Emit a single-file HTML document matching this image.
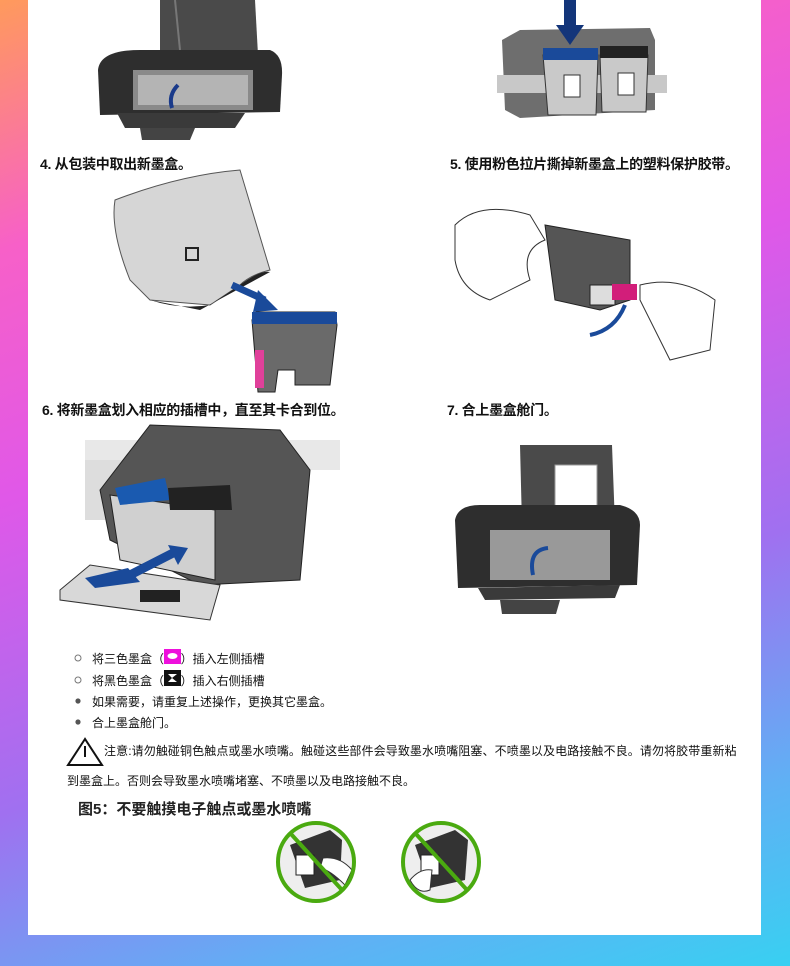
<!DOCTYPE html>
<html><head><meta charset="utf-8">
<style>
html,body{margin:0;padding:0}
body{width:790px;height:966px;position:relative;overflow:hidden;
background:linear-gradient(160deg,#ff9a5c 0%,#f760c8 20%,#e058e8 40%,#a070f0 65%,#60b0f4 85%,#38d0f2 100%);
font-family:"Liberation Sans","Noto Sans CJK SC",sans-serif;}
.panel{position:absolute;left:28px;top:0;width:733px;height:935px;background:#fff}
.t{position:absolute;white-space:nowrap;color:#111}
.lab{font-size:14px;font-weight:bold;letter-spacing:-0.3px}
.b{font-size:12px}
svg{position:absolute;left:0;top:0}
</style></head><body>
<div class="panel"></div>
<svg width="790" height="966" viewBox="0 0 790 966">
<!-- top-left printer -->
<path d="M160 0 L255 0 L258 55 L160 55 Z" fill="#4a4a4a"/>
<path d="M175 0 L180 50" stroke="#777" stroke-width="2"/>
<path d="M98 70 Q100 50 140 50 L270 50 Q283 55 282 75 L280 112 L100 115 Z" fill="#2e2e2e"/>
<rect x="133" y="70" width="120" height="40" fill="#8a8a8a"/>
<rect x="138" y="75" width="110" height="30" fill="#b4b4b4"/>
<path d="M117 113 L245 113 L235 128 L125 128 Z" fill="#3a3a3a"/>
<path d="M140 128 L195 128 L190 140 L142 140 Z" fill="#444"/>
<path d="M178 85 Q168 95 172 108" stroke="#1a3a8a" stroke-width="4" fill="none"/>
<!-- top-right cartridges -->
<path d="M502 40 L520 30 L650 28 L655 40 L655 110 L520 118 L505 110 Z" fill="#6e6e6e"/>
<rect x="497" y="75" width="170" height="18" fill="#c8c8c8"/>
<path d="M543 55 L598 55 L596 115 L548 115 Z" fill="#c9c9c9" stroke="#333"/>
<path d="M600 55 L648 55 L646 112 L602 112 Z" fill="#c9c9c9" stroke="#333"/>
<rect x="543" y="48" width="55" height="12" fill="#1a4a9a"/>
<rect x="600" y="46" width="48" height="12" fill="#222"/>
<rect x="564" y="75" width="16" height="22" fill="#fff" stroke="#333"/>
<rect x="618" y="73" width="16" height="22" fill="#fff" stroke="#333"/>
<rect x="564" y="0" width="12" height="30" fill="#13357a"/>
<path d="M556 25 L584 25 L570 45 Z" fill="#13357a"/>
<!-- package -->
<path d="M115 200 Q180 175 240 170 L270 270 Q250 275 240 285 L210 305 L150 300 L130 280 Q110 230 115 200Z" fill="#d6d6d6" stroke="#555"/>
<path d="M150 300 Q180 310 210 305 L240 285 Q260 270 270 272 L200 310 Z" fill="#222"/>
<rect x="186" y="248" width="12" height="12" fill="none" stroke="#222" stroke-width="2"/>
<path d="M232 285 L265 300" stroke="#1a4a9a" stroke-width="7"/>
<path d="M258 290 L278 310 L253 312 Z" fill="#1a4a9a"/>
<path d="M252 320 L256 312 L335 312 L337 325 L330 385 L295 385 L295 370 L278 370 L275 392 L258 392 Z" fill="#6a6a6a" stroke="#222"/>
<rect x="252" y="312" width="85" height="12" fill="#1a4a9a"/>
<rect x="255" y="350" width="9" height="38" fill="#e0409a"/>
<!-- hands -->
<path d="M455 225 Q480 200 530 215 L545 240 Q520 250 530 280 L490 300 Q460 290 455 260 Z" fill="none" stroke="#333"/>
<path d="M545 225 L630 240 L630 300 L600 310 L555 300 Z" fill="#555" stroke="#222"/>
<rect x="590" y="285" width="25" height="20" fill="#ddd" stroke="#222"/>
<rect x="612" y="284" width="25" height="16" fill="#d21e7a"/>
<path d="M640 285 Q680 275 715 300 L710 350 L670 360 Q650 320 640 300 Z" fill="none" stroke="#333"/>
<path d="M625 305 Q615 330 590 335" stroke="#1a4a9a" stroke-width="4" fill="none"/>
<!-- step 6 -->
<rect x="85" y="440" width="255" height="30" fill="#e8e8e8"/>
<rect x="85" y="460" width="40" height="60" fill="#ddd"/>
<path d="M100 490 L150 425 L280 430 L310 470 L300 580 L200 585 L110 540 Z" fill="#555" stroke="#222"/>
<path d="M110 495 L215 510 L215 580 L120 560 Z" fill="#d0d0d0" stroke="#222"/>
<path d="M115 488 L165 478 L170 500 L120 505 Z" fill="#1a5ab0"/>
<path d="M168 488 L230 485 L232 510 L170 510 Z" fill="#222"/>
<path d="M60 590 L90 565 L220 585 L210 620 L60 600 Z" fill="#d8d8d8" stroke="#333"/>
<path d="M85 578 L128 568 L140 582 L95 588 Z" fill="#1a4a9a"/>
<rect x="140" y="590" width="40" height="12" fill="#222"/>
<path d="M130 575 L175 552" stroke="#1a4a9a" stroke-width="9"/>
<path d="M168 545 L188 548 L178 565 Z" fill="#1a4a9a"/>
<!-- step 7 -->
<path d="M520 445 L612 445 L615 525 L522 525 Z" fill="#4a4a4a"/>
<rect x="555" y="465" width="42" height="55" fill="#fff" stroke="#999"/>
<path d="M455 520 Q458 505 480 505 L620 505 Q640 510 640 525 L637 585 L458 588 Z" fill="#2e2e2e"/>
<rect x="490" y="530" width="120" height="50" fill="#999"/>
<path d="M478 588 L620 585 L615 598 L485 600 Z" fill="#3a3a3a"/>
<path d="M500 600 L560 600 L556 614 L502 614 Z" fill="#444"/>
<path d="M533 575 Q528 550 548 548" stroke="#1a4a9a" stroke-width="4" fill="none"/>
<!-- bullets -->
<circle cx="78" cy="658" r="3" fill="none" stroke="#777"/>
<circle cx="78" cy="680" r="3" fill="none" stroke="#777"/>
<circle cx="78" cy="701" r="2.6" fill="#555"/>
<circle cx="78" cy="722" r="2.6" fill="#555"/>
<rect x="164" y="649" width="17" height="15" fill="#ee10dc"/>
<ellipse cx="172.5" cy="656" rx="5" ry="3" fill="#fff"/>
<rect x="164" y="670" width="17" height="16" fill="#111"/>
<path d="M168 674 L177 674 L172 678 L177 682 L168 682 L172 678 Z" fill="#fff"/>
<path d="M85 739 L68 765 L102 765 Z" fill="none" stroke="#111" stroke-width="2"/>
<rect x="84" y="746" width="2" height="11" fill="#111"/>
<!-- no-touch circles -->
<g>
<ellipse cx="316" cy="862" rx="38" ry="39" fill="#eee"/>
<path d="M290 845 L330 830 L342 840 L340 880 L305 888 Z" fill="#333"/>
<rect x="296" y="855" width="18" height="20" fill="#fff" stroke="#222"/>
<path d="M323 858 Q340 856 352 870 L345 885 Q330 870 320 868 Z" fill="#fff" stroke="#333"/>
<ellipse cx="316" cy="862" rx="38" ry="39" fill="none" stroke="#4aaa10" stroke-width="4"/>
<path d="M291 834 L342 890" stroke="#4aaa10" stroke-width="4"/>
</g>
<g>
<ellipse cx="441" cy="862" rx="38" ry="39" fill="#eee"/>
<path d="M415 845 L455 830 L468 840 L465 880 L430 888 Z" fill="#333"/>
<rect x="421" y="855" width="18" height="20" fill="#fff" stroke="#222"/>
<path d="M410 880 Q420 868 432 870 L430 890 Q418 895 410 880 Z" fill="#fff" stroke="#333"/>
<ellipse cx="441" cy="862" rx="38" ry="39" fill="none" stroke="#4aaa10" stroke-width="4"/>
<path d="M416 834 L467 890" stroke="#4aaa10" stroke-width="4"/>
</g>
</svg>
<div class="t lab" style="left:40px;top:154px">4. 从包装中取出新墨盒。</div>
<div class="t lab" style="left:450px;top:154px">5. 使用粉色拉片撕掉新墨盒上的塑料保护胶带。</div>
<div class="t lab" style="left:42px;top:400px">6. 将新墨盒划入相应的插槽中，直至其卡合到位。</div>
<div class="t lab" style="left:447px;top:400px">7. 合上墨盒舱门。</div>
<div class="t b" style="left:92px;top:650px">将三色墨盒（&nbsp;&nbsp;&nbsp;&nbsp;&nbsp;）插入左侧插槽</div>
<div class="t b" style="left:92px;top:672px">将黑色墨盒（&nbsp;&nbsp;&nbsp;&nbsp;&nbsp;）插入右侧插槽</div>
<div class="t b" style="left:92px;top:693px">如果需要，请重复上述操作，更换其它墨盒。</div>
<div class="t b" style="left:92px;top:714px">合上墨盒舱门。</div>
<div class="t b" style="left:104px;top:742px;letter-spacing:0.1px">注意:请勿触碰铜色触点或墨水喷嘴。触碰这些部件会导致墨水喷嘴阻塞、不喷墨以及电路接触不良。请勿将胶带重新粘</div>
<div class="t b" style="left:67px;top:772px">到墨盒上。否则会导致墨水喷嘴堵塞、不喷墨以及电路接触不良。</div>
<div class="t" style="left:78px;top:798px;font-size:15px;font-weight:bold;color:#222">图5：不要触摸电子触点或墨水喷嘴</div>
</body></html>
